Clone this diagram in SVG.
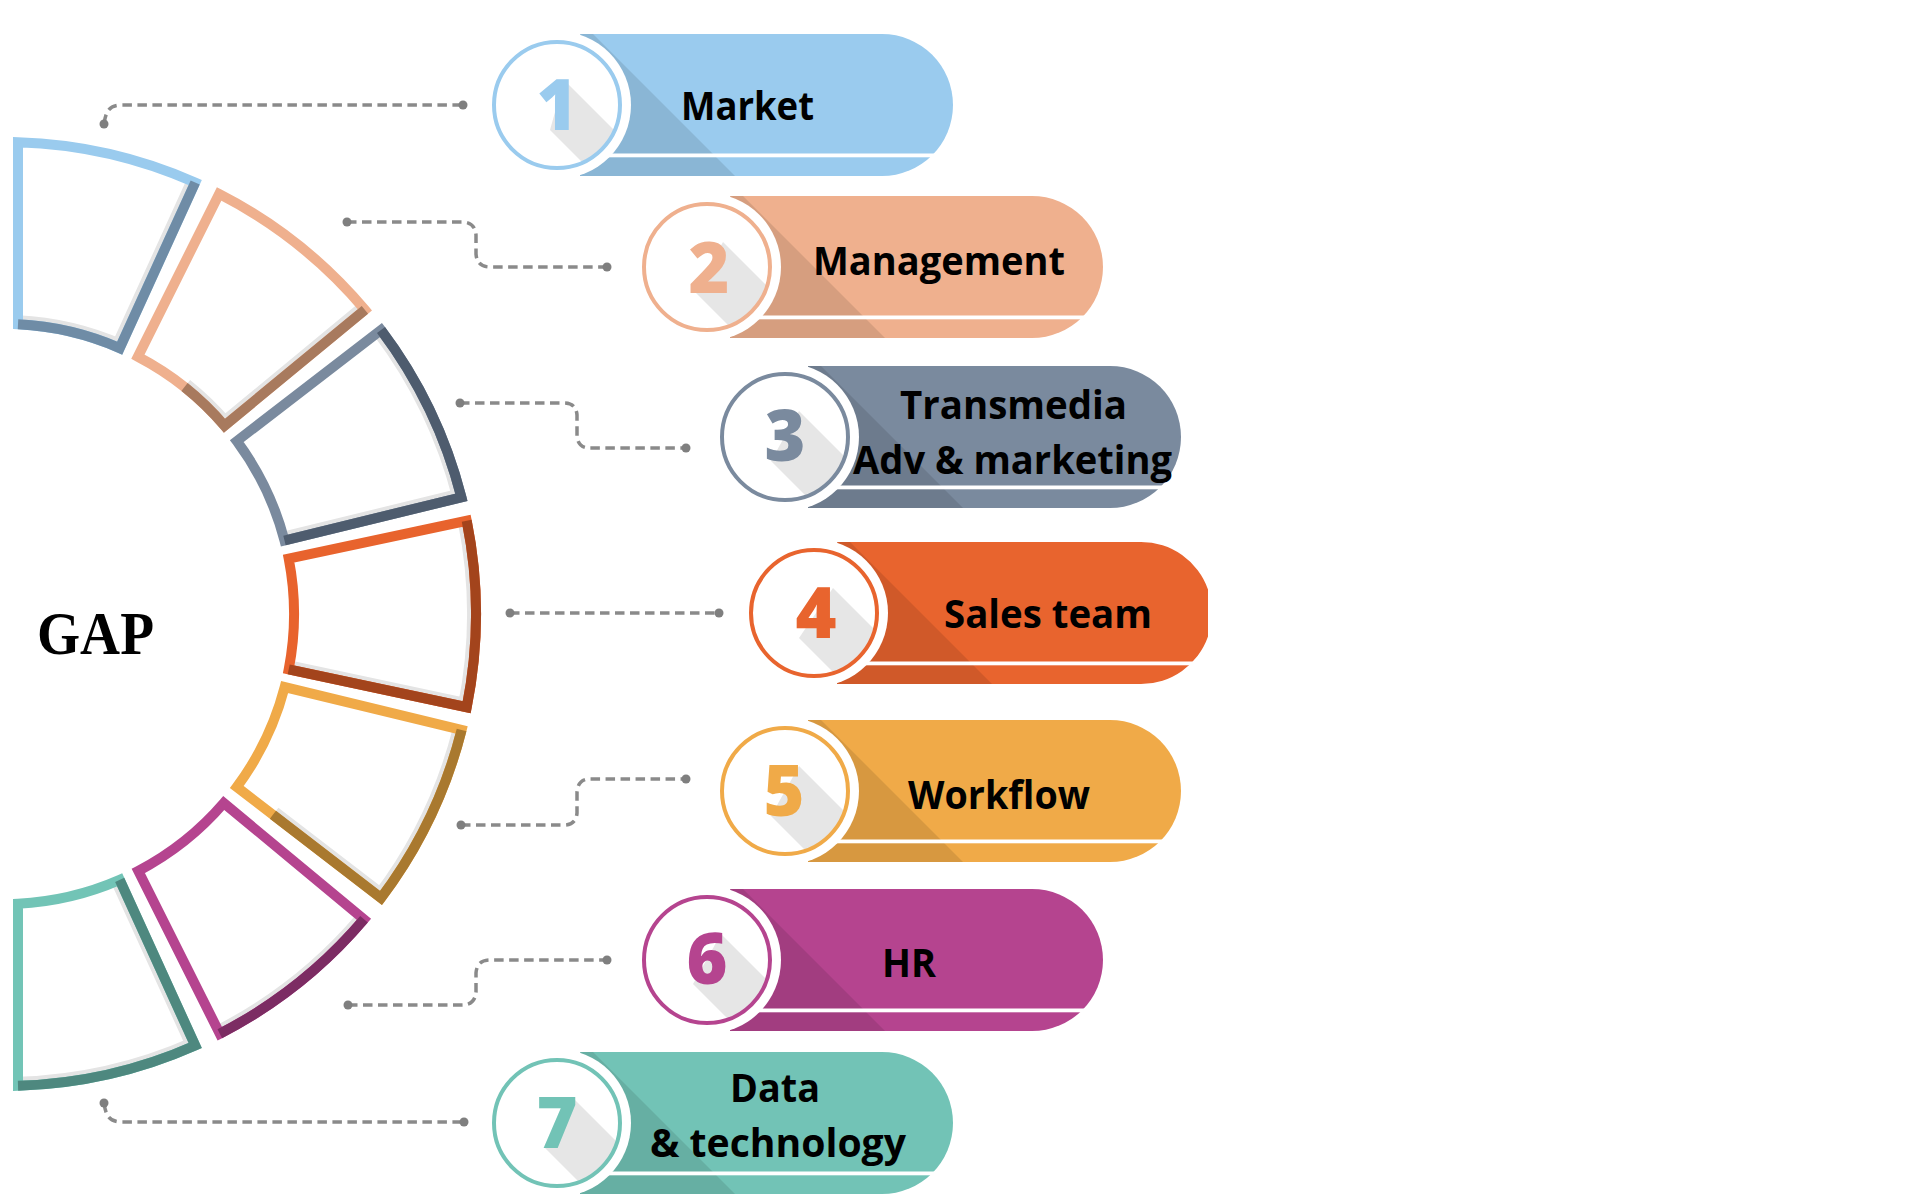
<svg xmlns="http://www.w3.org/2000/svg" width="1920" height="1201" viewBox="0 0 1920 1201">
<style>
.lbl{font-family:"Open Sans","Liberation Sans",sans-serif;font-weight:700;font-size:40px;fill:#000;text-anchor:middle}
.num{font-family:"Open Sans","Liberation Sans",sans-serif;font-weight:800;font-size:70px;text-anchor:middle}
.gap{font-family:"Liberation Serif","Times New Roman",serif;font-weight:700;font-size:62px;fill:#000}
.conn path{fill:none;stroke:#8a8a8a;stroke-width:3.5;stroke-dasharray:9.5 5.5}
.conn circle{fill:#7f7f7f}
.seg{fill:none;stroke-width:10;stroke-linejoin:miter}
.gs{fill:none;stroke:#e4e4e4;stroke-width:18}
.shade{fill:#000;fill-opacity:.1}
.stripe{fill:#fff}
.disc{fill:#fff}
.dsh{fill:#e6e6e6}
.ring{fill:none;stroke-width:4}
</style>
<defs>
<clipPath id="cc"><circle r="62"/></clipPath>
<clipPath id="k0"><path d="M18,142.2 A472,472 0 0 1 195.2,182.5 L119.7,348.1 A290,290 0 0 0 18,324.3 Z"/></clipPath>
<clipPath id="k1"><path d="M219.1,193.9 A472,472 0 0 1 364.9,309.8 L224.5,425.7 A290,290 0 0 0 137.9,356.7 Z"/></clipPath>
<clipPath id="k2"><path d="M381,330 A472,472 0 0 1 461.4,497.3 L284.5,540.5 A290,290 0 0 0 236.8,441.1 Z"/></clipPath>
<clipPath id="k3"><path d="M466.7,520.8 A472,472 0 0 1 466.7,707.2 L288.7,669.4 A290,290 0 0 0 288.7,558.6 Z"/></clipPath>
<clipPath id="k4"><path d="M461.6,729.9 A472,472 0 0 1 381,898 L236.8,787 A290,290 0 0 0 284.7,687.1 Z"/></clipPath>
<clipPath id="k5"><path d="M364,919.3 A472,472 0 0 1 219.8,1033.7 L138.3,871 A290,290 0 0 0 223.8,803.1 Z"/></clipPath>
<clipPath id="k6"><path d="M195.2,1045.5 A472,472 0 0 1 18,1085.8 L18,903.7 A290,290 0 0 0 119.7,879.9 Z"/></clipPath>
</defs>
<rect width="1920" height="1201" fill="#fff"/>

<g id="ring">
<g id="seg1">
<path class="gs" clip-path="url(#k0)" d="M195.2,182.5 L119.7,348.1 A290,290 0 0 0 18,324.3"/>
<path class="seg" stroke="#9ACBEE" d="M18,142.2 A472,472 0 0 1 195.2,182.5 L119.7,348.1 A290,290 0 0 0 18,324.3 Z"/>
<path class="seg" stroke="#6F8CA6" d="M195.2,182.5 L119.7,348.1 A290,290 0 0 0 18,324.3"/>
</g>
<g id="seg2">
<path class="gs" clip-path="url(#k1)" d="M364.9,309.8 L224.5,425.7 A290,290 0 0 0 184.5,387"/>
<path class="seg" stroke="#EFB08E" d="M219.1,193.9 A472,472 0 0 1 364.9,309.8 L224.5,425.7 A290,290 0 0 0 137.9,356.7 Z"/>
<path class="seg" stroke="#A87A5E" d="M364.9,309.8 L224.5,425.7 A290,290 0 0 0 184.5,387"/>
</g>
<g id="seg3">
<path class="gs" clip-path="url(#k2)" d="M381,330 A472,472 0 0 1 461.4,497.3 L284.5,540.5"/>
<path class="seg" stroke="#7A8A9E" d="M381,330 A472,472 0 0 1 461.4,497.3 L284.5,540.5 A290,290 0 0 0 236.8,441.1 Z"/>
<path class="seg" stroke="#4E5C6E" d="M381,330 A472,472 0 0 1 461.4,497.3 L284.5,540.5"/>
</g>
<g id="seg4">
<path class="gs" clip-path="url(#k3)" d="M466.7,520.8 A472,472 0 0 1 466.7,707.2 L288.7,669.4"/>
<path class="seg" stroke="#E8632D" d="M466.7,520.8 A472,472 0 0 1 466.7,707.2 L288.7,669.4 A290,290 0 0 0 288.7,558.6 Z"/>
<path class="seg" stroke="#A3441C" d="M466.7,520.8 A472,472 0 0 1 466.7,707.2 L288.7,669.4"/>
</g>
<g id="seg5">
<path class="gs" clip-path="url(#k4)" d="M461.6,729.9 A472,472 0 0 1 381,898 L272.9,814.8"/>
<path class="seg" stroke="#F0AA48" d="M461.6,729.9 A472,472 0 0 1 381,898 L236.8,787 A290,290 0 0 0 284.7,687.1 Z"/>
<path class="seg" stroke="#A9792F" d="M461.6,729.9 A472,472 0 0 1 381,898 L272.9,814.8"/>
</g>
<g id="seg6">
<path class="gs" clip-path="url(#k5)" d="M364,919.3 A472,472 0 0 1 219.8,1033.7"/>
<path class="seg" stroke="#B5448F" d="M364,919.3 A472,472 0 0 1 219.8,1033.7 L138.3,871 A290,290 0 0 0 223.8,803.1 Z"/>
<path class="seg" stroke="#7C2C63" d="M364,919.3 A472,472 0 0 1 219.8,1033.7"/>
</g>
<g id="seg7">
<path class="gs" clip-path="url(#k6)" d="M119.7,879.9 L195.2,1045.5 A472,472 0 0 1 18,1085.8"/>
<path class="seg" stroke="#72C4B6" d="M195.2,1045.5 A472,472 0 0 1 18,1085.8 L18,903.7 A290,290 0 0 0 119.7,879.9 Z"/>
<path class="seg" stroke="#4E887F" d="M119.7,879.9 L195.2,1045.5 A472,472 0 0 1 18,1085.8"/>
</g>
</g>

<g id="gap"><text class="gap" x="37" y="654" textLength="117" lengthAdjust="spacingAndGlyphs">GAP</text></g>

<g id="connectors" class="conn">
<path d="M104,124 C106,110 110,105 122,105 H463"/>
<circle cx="104" cy="124" r="4.5"/><circle cx="463" cy="105" r="4.5"/>
<path d="M347,222 H462 Q475,222 476,235 V254 Q477,267 490,267 H607"/>
<circle cx="347" cy="222" r="4.5"/><circle cx="607" cy="267" r="4.5"/>
<path d="M460,403 H564 Q576,403 577,415 V436 Q578,448 590,448 H686"/>
<circle cx="460" cy="403" r="4.5"/><circle cx="686" cy="448" r="4.5"/>
<path d="M510,613 H719"/>
<circle cx="510" cy="613" r="4.5"/><circle cx="719" cy="613" r="4.5"/>
<path d="M461,825 H564 Q576,825 577,813 V792 Q578,779 590,779 H686"/>
<circle cx="461" cy="825" r="4.5"/><circle cx="686" cy="779" r="4.5"/>
<path d="M348,1005 H462 Q475,1005 476,992 V973 Q477,960 490,960 H607"/>
<circle cx="348" cy="1005" r="4.5"/><circle cx="607" cy="960" r="4.5"/>
<path d="M104,1103 C106,1117 110,1122 122,1122 H464"/>
<circle cx="104" cy="1103" r="4.5"/><circle cx="464" cy="1122" r="4.5"/>
</g>

<g id="n1" transform="translate(557,105)">
<path fill="#9ACBEE" d="M23,-71H325A71,71 0 0 1 325,71H23Z"/>
<path class="shade" d="M23,-71H36L178,71H23Z"/>
<rect class="stripe" x="23" y="48.5" width="380" height="3.8"/>
<circle class="disc" r="74"/>
<path class="dsh" clip-path="url(#cc)" d="M7,-25L107,75L93,125L-7,25Z"/>
<circle class="ring" r="63" stroke="#9ACBEE"/>
<text class="num" x="0" y="25" fill="#9ACBEE">1</text>
<text class="lbl" x="190.5" y="15" textLength="133" lengthAdjust="spacingAndGlyphs">Market</text>
</g>

<g id="n2" transform="translate(707,267)">
<path fill="#EFB08E" d="M23,-71H325A71,71 0 0 1 325,71H23Z"/>
<path class="shade" d="M23,-71H36L178,71H23Z"/>
<rect class="stripe" x="23" y="48.5" width="380" height="3.8"/>
<circle class="disc" r="74"/>
<path class="dsh" clip-path="url(#cc)" d="M16,-25L116,75L88,125L-12,25Z"/>
<circle class="ring" r="63" stroke="#EFB08E"/>
<text class="num" x="2" y="26" fill="#EFB08E">2</text>
<text class="lbl" x="232" y="8" textLength="252" lengthAdjust="spacingAndGlyphs">Management</text>
</g>

<g id="n3" transform="translate(785,437)">
<path fill="#7A8A9E" d="M23,-71H325A71,71 0 0 1 325,71H23Z"/>
<path class="shade" d="M23,-71H36L178,71H23Z"/>
<rect class="stripe" x="23" y="48.5" width="380" height="3.8"/>
<circle class="disc" r="74"/>
<path class="dsh" clip-path="url(#cc)" d="M14,-26L114,74L86,124L-14,24Z"/>
<circle class="ring" r="63" stroke="#7A8A9E"/>
<text class="num" x="0" y="24" fill="#7A8A9E">3</text>
<text class="lbl" x="228.5" y="-18" textLength="227" lengthAdjust="spacingAndGlyphs">Transmedia</text>
<text class="lbl" x="227.5" y="37" textLength="319" lengthAdjust="spacingAndGlyphs">Adv &amp; marketing</text>
</g>

<g id="n4" transform="translate(814,613)">
<path fill="#E8642E" d="M23,-71H327A71,71 0 0 1 394,-23.5V23.5A71,71 0 0 1 327,71H23Z"/>
<path class="shade" d="M23,-71H36L178,71H23Z"/>
<rect class="stripe" x="23" y="48.5" width="372" height="3.8"/>
<circle class="disc" r="74"/>
<path class="dsh" clip-path="url(#cc)" d="M19,-25L119,75L85,125L-15,25Z"/>
<circle class="ring" r="63" stroke="#E8642E"/>
<text class="num" x="2" y="25" fill="#E8642E">4</text>
<text class="lbl" x="234" y="15" textLength="208" lengthAdjust="spacingAndGlyphs">Sales team</text>
</g>

<g id="n5" transform="translate(785,791)">
<path fill="#F0AA48" d="M23,-71H325A71,71 0 0 1 325,71H23Z"/>
<path class="shade" d="M23,-71H36L178,71H23Z"/>
<rect class="stripe" x="23" y="48.5" width="380" height="3.8"/>
<circle class="disc" r="74"/>
<path class="dsh" clip-path="url(#cc)" d="M14,-25L114,75L86,125L-14,25Z"/>
<circle class="ring" r="63" stroke="#F0AA48"/>
<text class="num" x="-1" y="25" fill="#F0AA48">5</text>
<text class="lbl" x="214" y="18" textLength="182" lengthAdjust="spacingAndGlyphs">Workflow</text>
</g>

<g id="n6" transform="translate(707,960)">
<path fill="#B5448F" d="M23,-71H325A71,71 0 0 1 325,71H23Z"/>
<path class="shade" d="M23,-71H36L178,71H23Z"/>
<rect class="stripe" x="23" y="48.5" width="380" height="3.8"/>
<circle class="disc" r="74"/>
<path class="dsh" clip-path="url(#cc)" d="M14,-26L114,74L86,124L-14,24Z"/>
<circle class="ring" r="63" stroke="#B5448F"/>
<text class="num" x="0" y="24" fill="#B5448F">6</text>
<text class="lbl" x="202" y="17" textLength="54" lengthAdjust="spacingAndGlyphs">HR</text>
</g>

<g id="n7" transform="translate(557,1123)">
<path fill="#72C3B6" d="M23,-71H325A71,71 0 0 1 325,71H23Z"/>
<path class="shade" d="M23,-71H36L178,71H23Z"/>
<rect class="stripe" x="23" y="48.5" width="380" height="3.8"/>
<circle class="disc" r="74"/>
<path class="dsh" clip-path="url(#cc)" d="M16,-25L116,75L88,125L-12,25Z"/>
<circle class="ring" r="63" stroke="#72C3B6"/>
<text class="num" x="0" y="25" fill="#72C3B6">7</text>
<text class="lbl" x="218" y="-21" textLength="90" lengthAdjust="spacingAndGlyphs">Data</text>
<text class="lbl" x="221" y="34" textLength="256" lengthAdjust="spacingAndGlyphs">&amp; technology</text>
</g>
</svg>
